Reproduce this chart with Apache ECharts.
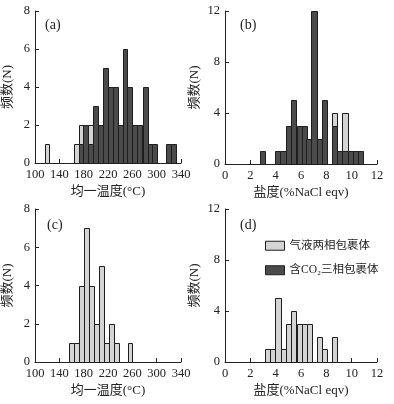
<!DOCTYPE html>
<html>
<head>
<meta charset="utf-8">
<script src="https://cdn.jsdelivr.net/npm/echarts@6/dist/echarts.min.js"></script>
<style>
  html, body { margin: 0; padding: 0; background: #fff; }
  #main { width: 394px; height: 404px; }
</style>
</head>
<body>
<div id="main"></div>
<script>
// (a) 均一温度 - 含CO2三相 / 气液两相
const aDarkX = [175.6, 183.7, 191.8, 199.9, 208, 216, 224, 232, 240, 248, 256, 264, 272, 281, 289, 297, 319.7, 327.8];
const aDarkN = [1, 2, 1, 3, 2, 5, 4, 4, 2, 6, 4, 2, 2, 4, 1, 1, 1, 1];
const aLightX = [119.7, 167.5, 175.6, 191.8];
const aLightN = [1, 1, 1, 1];
// (b) 盐度
const bDarkX = [2.96, 4.15, 4.58, 5.0, 5.43, 5.85, 6.25, 6.63, 7.03, 7.44, 7.85, 8.65, 9.06, 9.47, 9.9, 10.3, 10.7];
const bDarkN = [1, 1, 1, 3, 5, 3, 3, 2, 12, 2, 5, 3, 1, 1, 1, 1, 1];
const bLightX = [8.65, 9.47];
const bLightN = [1, 3];
// (c) 气液两相 均一温度
const cLightX = [160.1, 168.3, 176.4, 184.6, 192.7, 200.8, 209, 217.1, 225.3, 233.4, 256.2];
const cLightN = [1, 1, 4, 7, 4, 2, 5, 1, 2, 1, 1];
// (d) 气液两相 盐度
const dLightX = [3.39, 3.79, 4.19, 4.6, 5.01, 5.43, 5.85, 6.25, 6.64, 7.44, 7.85, 8.65];
const dLightN = [1, 1, 5, 1, 3, 4, 3, 3, 3, 2, 1, 2];

const tempTicks = [100, 340, 40];
const salTicks = [0, 12, 2];

const LIGHT = "#d4d4d4";
const DARK = "#4b4b4b";
const EDGE = "#1e1e1e";
const FONT = "'Liberation Serif', 'Noto Sans CJK SC', serif";
const nameLight = "气液两相包裹体";
const nameDark = "含CO₂三相包裹体";

const chart = echarts.init(document.getElementById("main"));

// 叠加: 浅色柱放在同位置深色柱之上
function stackData(xs, ns, baseX, baseN) {
  return xs.map((x, i) => {
    const k = baseX ? baseX.indexOf(x) : -1;
    const base = k >= 0 ? baseN[k] : 0;
    return [x, base, base + ns[i]];
  });
}

function barSeries(name, idx, data, color, binW) {
  return {
    type: "custom",
    name: name,
    xAxisIndex: idx,
    yAxisIndex: idx,
    itemStyle: { color: color, borderColor: EDGE, borderWidth: 1 },
    encode: { x: 0, y: 2 },
    data: data,
    renderItem: (params, api) => {
      const x = api.value(0);
      const p0 = api.coord([x - binW / 2, api.value(2)]);
      const p1 = api.coord([x + binW / 2, api.value(1)]);
      return {
        type: "rect",
        shape: {
          x: Math.round(p0[0]) + 0.5,
          y: Math.round(p0[1]) + 0.5,
          width: Math.round(p1[0]) - Math.round(p0[0]),
          height: Math.round(p1[1]) - Math.round(p0[1]),
        },
        style: { fill: color, stroke: EDGE, lineWidth: 1 },
      };
    },
  };
}

function xAxis(idx, ticks, title) {
  return {
    type: "value",
    gridIndex: idx,
    min: ticks[0],
    max: ticks[1],
    interval: ticks[2],
    name: title,
    nameLocation: "middle",
    nameGap: 22,
    nameTextStyle: { fontFamily: FONT, fontSize: 13, color: "#222" },
    axisLine: { show: true, onZero: false, lineStyle: { color: "#222", width: 1 } },
    axisTick: { show: true, inside: true, length: 4, lineStyle: { color: "#222" } },
    axisLabel: { fontFamily: FONT, fontSize: 12.5, color: "#222", margin: 5 },
    splitLine: { show: false },
  };
}

function yAxis(idx, max, interval, gap) {
  return {
    type: "value",
    gridIndex: idx,
    min: 0,
    max: max,
    interval: interval,
    name: "频数(N)",
    nameLocation: "middle",
    nameRotate: 90,
    nameGap: gap,
    nameTextStyle: { fontFamily: FONT, fontSize: 13, color: "#222" },
    axisLine: { show: true, lineStyle: { color: "#222", width: 1 } },
    axisTick: { show: true, inside: true, length: 4, lineStyle: { color: "#222" } },
    axisLabel: { fontFamily: FONT, fontSize: 12.5, color: "#222", margin: 5 },
    splitLine: { show: false },
  };
}

function panelLabel(txt, left, top) {
  return {
    type: "text",
    left: left,
    top: top,
    style: { text: txt, font: "14px " + FONT, fill: "#222" },
  };
}

const option = {
  animation: false,
  backgroundColor: "#fff",
  grid: [
    { left: 34, right: 213, top: 11, bottom: 241 },
    { left: 225, right: 17, top: 11, bottom: 240 },
    { left: 34, right: 213, top: 209, bottom: 42 },
    { left: 225, right: 17, top: 209, bottom: 42 },
  ],
  xAxis: [
    xAxis(0, tempTicks, "均一温度(°C)"),
    xAxis(1, salTicks, "盐度(%NaCl eqv)"),
    xAxis(2, tempTicks, "均一温度(°C)"),
    xAxis(3, salTicks, "盐度(%NaCl eqv)"),
  ],
  yAxis: [yAxis(0, 8, 2, 21), yAxis(1, 12, 4, 24), yAxis(2, 8, 2, 21), yAxis(3, 12, 4, 24)],
  legend: {
    orient: "vertical",
    left: 265,
    top: 240,
    padding: 0,
    itemWidth: 19,
    itemHeight: 9,
    itemGap: 13,
    icon: "rect",
    textStyle: { fontFamily: FONT, fontSize: 11.5, color: "#222" },
    data: [
      { name: nameLight, itemStyle: { color: LIGHT, borderColor: EDGE, borderWidth: 1 } },
      { name: nameDark, itemStyle: { color: DARK, borderColor: EDGE, borderWidth: 1 } },
    ],
  },
  graphic: [
    panelLabel("(a)", 45, 18),
    panelLabel("(b)", 240, 18),
    panelLabel("(c)", 47, 218),
    panelLabel("(d)", 240, 218),
  ],
  series: [
    barSeries(nameDark, 0, stackData(aDarkX, aDarkN), DARK, 8.1),
    barSeries(nameLight, 0, stackData(aLightX, aLightN, aDarkX, aDarkN), LIGHT, 8.1),
    barSeries(nameDark, 1, stackData(bDarkX, bDarkN), DARK, 0.41),
    barSeries(nameLight, 1, stackData(bLightX, bLightN, bDarkX, bDarkN), LIGHT, 0.41),
    barSeries(nameLight, 2, stackData(cLightX, cLightN), LIGHT, 8.1),
    barSeries(nameLight, 3, stackData(dLightX, dLightN), LIGHT, 0.41),
  ],
};

chart.setOption(option);
</script>
</body>
</html>
